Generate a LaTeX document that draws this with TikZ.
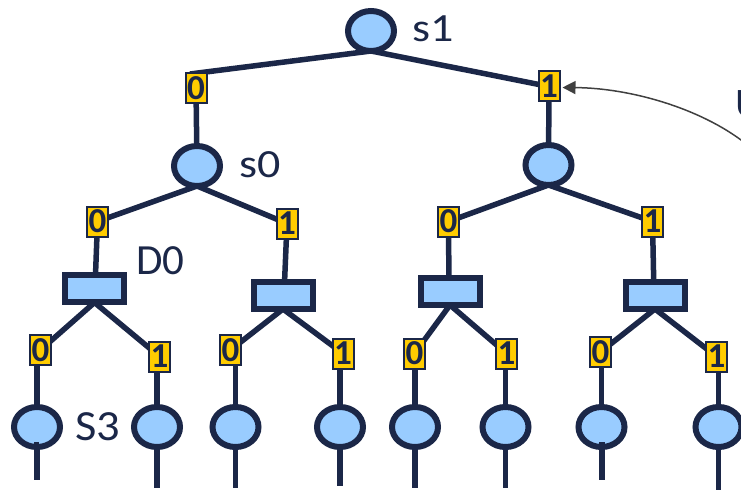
\documentclass[tikz,border=0pt]{standalone}
\usepackage{fontspec}
\setmainfont{Carlito}
\usetikzlibrary{shapes.geometric,arrows.meta,calc}
\definecolor{navy}{RGB}{27,39,72}
\definecolor{paleblue}{RGB}{153,204,255}
\definecolor{gold}{RGB}{255,204,0}
\definecolor{arrowgray}{RGB}{64,64,64}
\tikzset{
  state/.style={ellipse,draw=navy,fill=paleblue,line width=6pt,minimum width=46pt,minimum height=40pt,inner sep=0pt},
  decider/.style={rectangle,draw=navy,fill=paleblue,line width=6pt,minimum width=59pt,minimum height=27pt,inner sep=0pt},
  bit/.style={rectangle,draw=navy,fill=gold,line width=2pt,minimum width=21pt,minimum height=30pt,inner sep=0pt,
    text=navy,font=\fontsize{35}{35}\selectfont\bfseries},
  wire/.style={draw=navy,line width=5.5pt},
  tag/.style={text=navy,inner sep=0pt},
  pointer/.style={draw=arrowgray,line width=1.5pt,-{Triangle[length=13pt,width=13pt]}}
}
\begin{document}
\begin{tikzpicture}[x=1pt,y=-1pt]
\useasboundingbox (0,0) rectangle (741,492);

% --- coordinates of the tree ---
\coordinate (ps1) at (371,31);
\coordinate (pt0) at (196,88);   \coordinate (pt1) at (549,86.5);
\coordinate (ps0) at (197,166);  \coordinate (pr1) at (548.5,165);
\coordinate (pa0) at (97.5,221.5); \coordinate (pa1) at (287,223.5);
\coordinate (pa2) at (448.5,221.5);\coordinate (pa3) at (652.5,221.5);
\coordinate (pd0) at (94.5,288.5); \coordinate (pd1) at (283,295);
\coordinate (pd2) at (450,291);    \coordinate (pd3) at (655,295);

% --- connectors (drawn first, nodes sit on top) ---
\path[wire] ($(ps1)+(0,20)$) -- (190,74);
\path[wire] ($(ps1)+(0,20)$) -- (pt1);
\path[wire] (pt0) -- (197,166);
\path[wire] (pt1) -- (548.5,165);
\path[wire] ($(ps0)+(0,20)$) -- (pa0);
\path[wire] ($(ps0)+(0,20)$) -- (pa1);
\path[wire] ($(pr1)+(0,20)$) -- (pa2);
\path[wire] ($(pr1)+(0,20)$) -- (pa3);
\path[wire] (pa0) -- (95,288.5);
\path[wire] (pa1) -- (284,295);
\path[wire] (pa2) -- (449,291);
\path[wire] (pa3) -- (654,295);

% leaf level: label boxes, states and their stubs
\foreach \n/\lx/\ly/\ex/\ez/\pp in {
  1/40.5/350/37/480/pd0, 2/159.5/356.5/157/488/pd0,
  3/230.5/350/235.5/488/pd1, 4/343/353.5/340/486/pd1,
  5/414.5/353.5/415/488/pd2, 6/506.5/353.5/505.5/488/pd2,
  7/600.5/352/601.5/480/pd3, 8/716.5/356.5/718.5/490/pd3}{
  \path[wire] ($(\pp)+(0,14)$) -- (\lx,\ly);
  \path[wire] (\ex,\ly) -- (\ex,427);
  \path[wire] (\ex,427) -- (\ex,\ez);
}

% --- nodes ---
\node[state] (s1) at (ps1) {};
\node[tag,font=\fontsize{40}{40}\selectfont,xscale=1.15,anchor=west] (s1lbl) at (412,29) {s1};

\node[bit] (b0) at (pt0) {0};
\node[bit] (b1) at (pt1) {1};

\node[state] (s0) at (ps0) {};
\node[tag,font=\fontsize{40}{40}\selectfont,xscale=1.15,anchor=west] (s0lbl) at (239,165) {s0};
\node[state] (r1) at (pr1) {};

\node[bit] (c0) at (pa0) {0};
\node[bit] (c1) at (pa1) {1};
\node[bit] (c2) at (pa2) {0};
\node[bit] (c3) at (pa3) {1};

\node[decider] (d0) at (pd0) {};
\node[decider] (d1) at (pd1) {};
\node[decider] (d2) at (pd2) {};
\node[decider] (d3) at (pd3) {};
\node[tag,font=\fontsize{43}{43}\selectfont,anchor=west] (d0lbl) at (136,261) {D0};

\foreach \n/\lx/\ly/\ex/\b in {
  1/40.5/350/37/0, 2/159.5/356.5/157/1,
  3/230.5/350/235.5/0, 4/343/353.5/340/1,
  5/414.5/353.5/415/0, 6/506.5/353.5/505.5/1,
  7/600.5/352/601.5/0, 8/716.5/356.5/718.5/1}{
  \node[bit] (l\n) at (\lx,\ly) {\b};
  \node[state] (e\n) at (\ex,427) {};
}
\node[tag,font=\fontsize{43}{43}\selectfont,xscale=1.08,anchor=west] (s3lbl) at (75,427) {S3};

% stubs that start inside the first state of a pair
\path[wire] (36.5,442) -- (36.5,480);
\path[wire] (602,442) -- (602,480);

% --- annotation arrow from the right ---
\node[tag,font=\fontsize{42}{42}\selectfont,anchor=west] (ulbl) at (735,104) {U};
\coordinate (from) at (745,143);
\draw[pointer] (from) .. controls (700,108) and (630,88) .. ($(b1.east)+(2,1)$);
\end{tikzpicture}
\end{document}
